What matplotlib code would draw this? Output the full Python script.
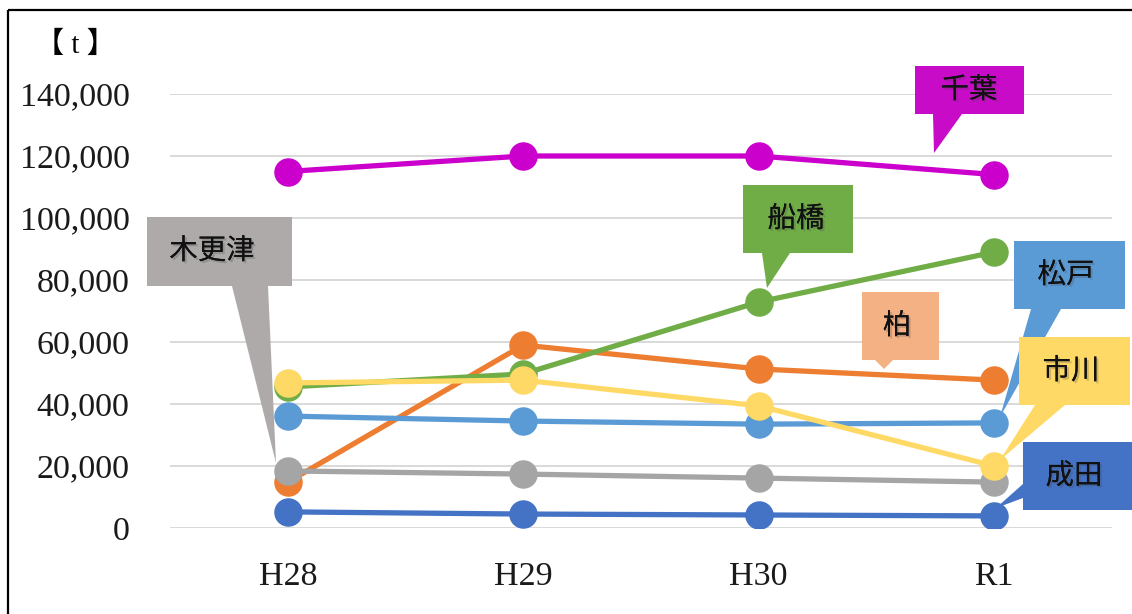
import matplotlib
matplotlib.use("Agg")
import matplotlib.pyplot as plt
from matplotlib.patches import Polygon, Rectangle
import matplotlib.patheffects as pe

# ---- data ----
years = ["H28", "H29", "H30", "R1"]
chiba = [115000, 120000, 120000, 114000]
funabashi = [45500, 49700, 72900, 89000]
kashiwa = [14800, 59000, 51300, 47700]
matsudo = [36100, 34500, 33500, 33900]
ichikawa = [46800, 47700, 39400, 20000]
kisarazu = [18400, 17400, 16100, 14800]
narita = [5200, 4500, 4200, 3900]
yticks = [0, 20000, 40000, 60000, 80000, 100000, 120000, 140000]

W, H = 1132, 614
fig = plt.figure(figsize=(W / 100, H / 100), dpi=100)
ax = fig.add_axes([170 / W, 1 - 528 / H, (1112 - 170) / W, (528 - 94) / H])

series = [
    ("成田", narita, "#4472C4"),
    ("柏", kashiwa, "#ED7D31"),
    ("松戸", matsudo, "#5B9BD5"),
    ("船橋", funabashi, "#70AD47"),
    ("木更津", kisarazu, "#A5A5A5"),
    ("市川", ichikawa, "#FFD966"),
    ("千葉", chiba, "#CC00CC"),
]
xs = list(range(len(years)))
for i, (name, vals, col) in enumerate(series):
    ax.plot(xs, vals, color=col, lw=3.8, marker="o", ms=19.5,
            solid_capstyle="round", zorder=3 + i)

ax.set_xlim(-0.5, len(years) - 0.5)
ax.set_ylim(0, 140000)
ax.set_yticks(yticks)
ax.set_yticklabels([f"{v:,}" for v in yticks])
ax.set_xticks(xs)
ax.set_xticklabels(years)
ax.grid(axis="y", color="#D9D9D9", lw=1.4, zorder=0)
ax.set_axisbelow(True)
for s in ax.spines.values():
    s.set_visible(False)
ax.tick_params(length=0)
ax.tick_params(axis="y", pad=29)
ax.tick_params(axis="x", pad=24)
for lab in ax.get_yticklabels() + ax.get_xticklabels():
    lab.set_family("Liberation Serif")
    lab.set_fontsize(24.5)
    lab.set_color("#1a1a1a")

# unit label
fig.text(75 / W, 1 - 45 / H, "【 t 】", ha="center", va="center",
         family=["Liberation Serif", "Noto Sans CJK JP"], fontsize=21)

# border of the chart area
fig.patches.append(Rectangle((8, H - 10), W + 50, -(H + 50), transform=None,
                             fill=False, ec="black", lw=1.6, figure=fig))

def P(x, y):
    return (x, H - y)

callouts = [
    ("千葉", "#C70BC7",
     [(915, 66), (1024, 66), (1024, 114), (962, 114), (934, 153), (933, 114), (915, 114)],
     (969, 90)),
    ("船橋", "#70AD47",
     [(743, 185), (853, 185), (853, 253), (790, 253), (767, 288), (762, 253), (743, 253)],
     (796, 219)),
    ("柏", "#F4B183",
     [(862, 292), (939, 292), (939, 360), (893, 360), (884, 369), (875, 360), (862, 360)],
     (897, 326)),
    ("松戸", "#5B9BD5",
     [(1014, 241), (1125, 241), (1125, 309), (1061, 309), (1000, 417), (1031, 309), (1014, 309)],
     (1066, 275)),
    ("市川", "#FFD966",
     [(1019, 337), (1130, 337), (1130, 405), (1065, 405), (1000, 460), (1035, 405), (1019, 405)],
     (1071, 371)),
    ("成田", "#4472C4",
     [(1023, 442), (1132, 442), (1132, 510), (1023, 510), (1023, 498), (996, 508), (1023, 484)],
     (1074, 476)),
    ("木更津", "#AEAAAA",
     [(147, 217), (292, 217), (292, 286), (268, 286), (276, 463), (232, 286), (147, 286)],
     (212, 251)),
]
shadow = [pe.withSimplePatchShadow(offset=(1.5, -1.5), shadow_rgbFace="#444444", alpha=0.25), pe.Normal()]
for name, col, poly, (tx, ty) in callouts:
    fig.patches.append(Polygon([P(x, y) for x, y in poly], closed=True, transform=None,
                               fc=col, ec="none", zorder=20, figure=fig))
    t = fig.text(tx / W, 1 - ty / H, name, ha="center", va="center",
                 family=["Noto Sans CJK JP"], fontsize=20.5, color="#111111", zorder=21)
    t.set_path_effects(shadow)

fig.savefig("out.png", dpi=100)
